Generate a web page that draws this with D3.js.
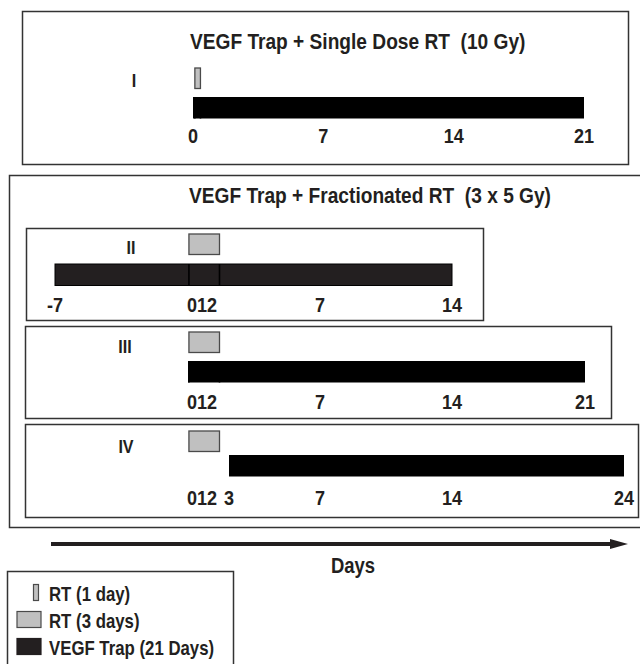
<!DOCTYPE html>
<html>
<head>
<meta charset="utf-8">
<script src="https://cdn.jsdelivr.net/npm/d3@7"></script>
<style>
  body { margin: 0; background: #fff; }
  svg { display: block; }
  text { font-family: "Liberation Sans", Arial, sans-serif; font-weight: bold; fill: #231f20; white-space: pre; }
</style>
</head>
<body>
<svg id="chart" width="640" height="664"></svg>
<script>
// schedule data (days)
const titles = ["VEGF Trap + Single Dose RT  (10 Gy)", "VEGF Trap + Fractionated RT  (3 x 5 Gy)"];
const groups = ["I", "II", "III", "IV"];
const vegfStart = [0, -7, 0, 3];
const vegfEnd = [21, 14, 21, 24];
const rtStart = [0.1, 0.05, 0.05, 0.05];
const rtEnd = [0.4, 1.7, 1.7, 1.7];
const tickDays = [[0, 7, 14, 21], [-7, 0, 7, 14], [0, 7, 14, 21], [0, 3, 7, 14, 24]];
const tickLabels = [["0", "7", "14", "21"], ["-7", "012", "7", "14"], ["012", "7", "14", "21"], ["012", "3", "7", "14", "24"]];
const legendLabels = ["RT (1 day)", "RT (3 days)", "VEGF Trap (21 Days)"];
const axisLabel = "Days";

const colors = { rt: "#c0c0c0", rtStroke: "#4a4a4a", vegf: "#000", vegfDark: "#231f20", frame: "#333" };

const svg = d3.select("#chart");

// places text at (x, y) with a horizontally condensed glyph box
function place(sel, xf, yf, squeeze = 0.87) {
  return sel
    .attr("x", 0).attr("y", 0)
    .attr("transform", (d, k) => {
      const x = typeof xf === "function" ? xf(d, k) : xf;
      const y = typeof yf === "function" ? yf(d, k) : yf;
      return `translate(${x},${y}) scale(${squeeze},1)`;
    });
}

// panel I is drawn on its own axis, II-IV share the hand drawn schedule axis
const xSingle = d3.scaleLinear().domain([0, 21]).range([193, 584]);
const xSched = d3.scaleLinear()
  .domain([-7, 0, 1.7, 3, 7, 14, 21, 24])
  .range([55, 188, 219.5, 229, 320, 452, 585, 624]);

const layout = [
  { box: [22, 11, 628, 164], x: xSingle, labelX: 134, labelY: 87, rtY: 68, barY: 97, tickY: 143, fill: colors.vegf },
  { box: [26, 228, 483, 320], x: xSched, labelX: 131, labelY: 254, rtY: 234, barY: 264, tickY: 312, fill: colors.vegfDark },
  { box: [25, 326, 611, 418], x: xSched, labelX: 125, labelY: 353, rtY: 332, barY: 361, tickY: 409, fill: colors.vegf },
  { box: [25, 424, 638, 517], x: xSched, labelX: 126, labelY: 453, rtY: 431, barY: 455, tickY: 505, fill: colors.vegf }
];
const barH = 21.5, rtH = 20.5;

// outer frame of fractionated group (runs off the right edge)
svg.append("rect")
  .attr("x", 9.5).attr("y", 175.5).attr("width", 640).attr("height", 352)
  .attr("fill", "none").attr("stroke", colors.frame).attr("stroke-width", 1.5);

place(svg.append("text"), 190, 49).style("font-size", "22px").text(titles[0]);
place(svg.append("text"), 189, 203).style("font-size", "22px").text(titles[1]);

groups.forEach((name, i) => {
  const L = layout[i];
  const x = L.x;
  const g = svg.append("g");

  g.append("rect")
    .attr("x", L.box[0] + 0.5).attr("y", L.box[1] + 0.5)
    .attr("width", L.box[2] - L.box[0]).attr("height", L.box[3] - L.box[1])
    .attr("fill", "none").attr("stroke", colors.frame).attr("stroke-width", 1.5);

  place(g.append("text"), L.labelX, L.labelY)
    .attr("text-anchor", "middle")
    .style("font-size", "18.5px")
    .text(name);

  // VEGF Trap bar
  g.append("rect")
    .attr("x", x(vegfStart[i])).attr("y", L.barY)
    .attr("width", x(vegfEnd[i]) - x(vegfStart[i])).attr("height", barH)
    .attr("fill", L.fill)
    .attr("stroke", i === 1 ? "#000" : "none").attr("stroke-width", 1);

  // RT marks over the bar where VEGF started before RT
  if (vegfStart[i] < rtStart[i]) {
    g.selectAll("line.rt-edge")
      .data([rtStart[i], rtEnd[i]])
      .join("line")
      .attr("class", "rt-edge")
      .attr("x1", d => x(d)).attr("x2", d => x(d))
      .attr("y1", L.barY).attr("y2", L.barY + barH)
      .attr("stroke", "#000").attr("stroke-width", 1.6);
  }

  // RT box
  g.append("rect")
    .attr("x", x(rtStart[i])).attr("y", L.rtY)
    .attr("width", x(rtEnd[i]) - x(rtStart[i])).attr("height", rtH)
    .attr("fill", colors.rt).attr("stroke", colors.rtStroke).attr("stroke-width", 1.3);

  // tick labels
  const ticks = g.selectAll("text.tick")
    .data(tickDays[i].map((d, k) => ({ day: d, label: tickLabels[i][k] })))
    .join("text")
    .attr("class", "tick");
  place(ticks, d => d.label === "012" ? x(d.day) - 1 : x(d.day), L.tickY, 0.88)
    .attr("text-anchor", d => d.label === "012" ? "start" : "middle")
    .style("font-size", "20.5px")
    .text(d => d.label);
});

// Days arrow
svg.append("line")
  .attr("x1", 51).attr("x2", 612).attr("y1", 544).attr("y2", 544)
  .attr("stroke", "#231f20").attr("stroke-width", 4);
svg.append("path")
  .attr("d", "M610,539L628,544L610,549Z")
  .attr("fill", "#231f20");
place(svg.append("text"), 353, 573, 0.84)
  .attr("text-anchor", "middle")
  .style("font-size", "22px")
  .text(axisLabel);

// legend
const legend = svg.append("g");
legend.append("rect")
  .attr("x", 7.5).attr("y", 571.5).attr("width", 226).attr("height", 100)
  .attr("fill", "none").attr("stroke", colors.frame).attr("stroke-width", 1.5);

const legendSwatch = [
  { x: 33.5, w: 5, fill: colors.rt, stroke: colors.rtStroke },
  { x: 17, w: 24, fill: colors.rt, stroke: colors.rtStroke },
  { x: 17, w: 24, fill: colors.vegfDark, stroke: colors.vegfDark }
];
const legendY = d3.scalePoint().domain(legendLabels).range([584.5, 638.5]);

legend.selectAll("rect.sw")
  .data(legendLabels)
  .join("rect")
  .attr("class", "sw")
  .attr("x", (d, k) => legendSwatch[k].x)
  .attr("y", d => legendY(d))
  .attr("width", (d, k) => legendSwatch[k].w)
  .attr("height", 16)
  .attr("fill", (d, k) => legendSwatch[k].fill)
  .attr("stroke", (d, k) => legendSwatch[k].stroke)
  .attr("stroke-width", 1.2);

const lg = legend.selectAll("text.lg")
  .data(legendLabels)
  .join("text")
  .attr("class", "lg");
place(lg, 49, d => legendY(d) + 16, 0.84)
  .style("font-size", "20px")
  .text(d => d);
</script>
</body>
</html>
